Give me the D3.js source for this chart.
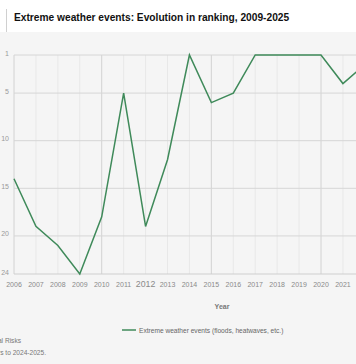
<!DOCTYPE html>
<html><head><meta charset="utf-8">
<script src="https://cdn.jsdelivr.net/npm/d3@7"></script>
<style>
html,body{margin:0;padding:0;background:#fff;}
svg{display:block;font-family:"Liberation Sans",Arial,sans-serif;}
</style></head>
<body>
<script>
const years = [2006,2007,2008,2009,2010,2011,2012,2013,2014,2015,2016,2017,2018,2019,2020,2021,2022];
const ranks = [14,19,21,24,18,5,19,12,1,6,5,1,1,1,1,4,2];
const xTickYears = [2006,2007,2008,2009,2010,2011,2012,2013,2014,2015,2016,2017,2018,2019,2020,2021];
const yTicks = [1,5,10,15,20,24];
const seriesName = "Extreme weather events (floods, heatwaves, etc.)";
const title = "Extreme weather events: Evolution in ranking, 2009-2025";
const xTitle = "Year";
const footer1 = "Source: World Economic Forum, Global Risks";
const footer2 = "Note: 2025 data refers to 2024-2025.";

const W = 356, H = 364;
const svg = d3.select("body").append("svg").attr("width", W).attr("height", H);

// background panel
svg.append("rect").attr("x",0).attr("y",32).attr("width",W).attr("height",H-32).attr("fill","#f5f5f5");
svg.append("rect").attr("x",6).attr("y",9).attr("width",1).attr("height",23).attr("fill","#d0d0d0");
svg.append("text").attr("x",14).attr("y",21).attr("font-size",10.2).attr("font-weight","bold")
  .attr("fill","#111").text(title);

const x = d3.scaleLinear().domain([2006, 2020]).range([14, 321]);
const y = d3.scaleLinear().domain([1, 24]).range([55, 274]);
const xMax = 2025;

// vertical gridlines
const vYears = d3.range(2006, xMax + 1);
svg.append("g").selectAll("line").data(vYears).join("line")
  .attr("x1", d => x(d)).attr("x2", d => x(d)).attr("y1", y(1)).attr("y2", y(24))
  .attr("stroke", d => (d % 5 === 0 || d === 2006) ? "#d2d2d2" : "#e8e8e8").attr("stroke-width", 1);

// horizontal gridlines
svg.append("g").selectAll("line").data(yTicks).join("line")
  .attr("x1", x(2006)).attr("x2", x(xMax)).attr("y1", d => y(d)).attr("y2", d => y(d))
  .attr("stroke", d => d === 24 ? "#cfcfcf" : "#d6d6d6").attr("stroke-width", 1);

// y tick labels
svg.append("g").selectAll("text").data(yTicks).join("text")
  .attr("x", 9).attr("y", d => y(d) + 0.5).attr("text-anchor","end")
  .attr("font-size", 7).attr("fill", "#9a9a9a").text(d => d);

// x tick labels
svg.append("g").selectAll("text").data(xTickYears).join("text")
  .attr("x", d => x(d)).attr("y", d => d === 2012 ? 286.8 : 286.5).attr("text-anchor","middle")
  .attr("font-size", d => d === 2012 ? 8.8 : 7).attr("fill", "#8a8a8a").text(d => d);

// axis title
svg.append("text").attr("x", 222).attr("y", 309).attr("text-anchor","middle")
  .attr("font-size", 7).attr("font-weight","bold").attr("fill","#777").text(xTitle);

// line
const line = d3.line().x((d,i) => x(years[i])).y(d => y(d));
svg.append("path").datum(ranks).attr("d", line).attr("fill","none")
  .attr("stroke","#3f8a5a").attr("stroke-width",1.5).attr("stroke-linejoin","miter");

// legend
svg.append("line").attr("x1",122).attr("x2",136).attr("y1",330).attr("y2",330)
  .attr("stroke","#3f8a5a").attr("stroke-width",1.5);
svg.append("text").attr("x",139).attr("y",332.5).attr("font-size",6.6).attr("fill","#666").text(seriesName);

// footer (clipped at left)
svg.append("text").attr("x",21).attr("y",343).attr("text-anchor","end").attr("font-size",6.6).attr("fill","#777").text(footer1);
svg.append("text").attr("x",46).attr("y",355).attr("text-anchor","end").attr("font-size",6.6).attr("fill","#777").text(footer2);
</script>
</body></html>
